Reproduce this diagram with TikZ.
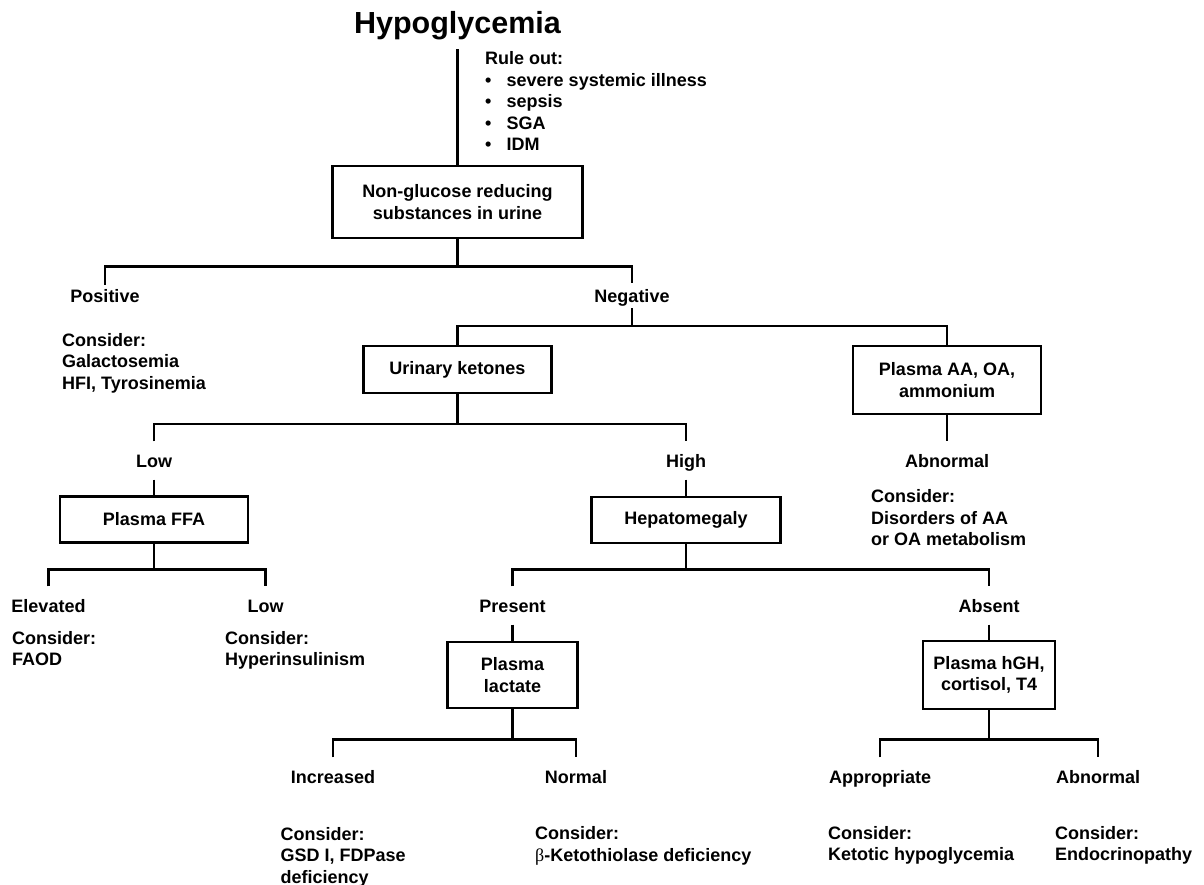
\documentclass[tikz,border=0pt]{standalone}
\usepackage{fontspec}
\setmainfont{Liberation Sans}
\newfontfamily\grkfont{Liberation Serif}
\begin{document}
\begin{tikzpicture}[x=1pt,y=-1pt,
  txt/.style={font=\fontsize{18}{21.5}\selectfont\bfseries},
  box/.style={txt,draw,line width=2.7pt,align=center,inner sep=0pt},
  lab/.style={txt,text height=13pt,text depth=0pt,inner xsep=2pt,inner ysep=12.5pt,anchor=base},
  note/.style={txt,align=left,anchor=base west,inner sep=0pt},
  conn/.style={line width=2.7pt}]
\useasboundingbox (0,0) rectangle (1204,885);

\node[font=\fontsize{30.5}{36}\selectfont\bfseries,anchor=base,inner sep=0pt] (title) at (457.5,33.3) {Hypoglycemia};
\node[box,minimum width=250pt,minimum height=72pt] (b1) at (457.5,202) {Non-glucose reducing\\substances in urine};
\node[note] (rule) at (485,151) {Rule out:\\\makebox[21.5pt][l]{\textbullet}severe systemic illness\\\makebox[21.5pt][l]{\textbullet}sepsis\\\makebox[21.5pt][l]{\textbullet}SGA\\\makebox[21.5pt][l]{\textbullet}IDM};

\node[lab,inner ysep=4pt] (pos) at (105,302) {Positive};
\node[lab,inner ysep=6pt] (neg) at (632,302) {Negative};
\node[note] (c1) at (62,389.3) {Consider:\\Galactosemia\\HFI, Tyrosinemia};
\node[box,minimum width=188pt,minimum height=47pt] (uk) at (457.5,369.5) {Urinary ketones};
\node[box,minimum width=188pt,minimum height=68pt] (aa) at (947,380) {Plasma AA, OA,\\ammonium};

\node[lab] (low1) at (154,467) {Low};
\node[lab] (high) at (686,467) {High};
\node[lab] (abn1) at (947,467) {Abnormal};
\node[note] (c2) at (871,545.5) {Consider:\\Disorders of AA\\or OA metabolism};
\node[box,minimum width=188pt,minimum height=46pt] (ffa) at (154,519.5) {Plasma FFA};
\node[box,minimum width=189pt,minimum height=46pt] (hep) at (686,520) {Hepatomegaly};

\node[lab] (elev) at (48.5,612) {Elevated};
\node[lab] (low2) at (265.5,612) {Low};
\node[note] (c3) at (12,665.5) {Consider:\\FAOD};
\node[note] (c4) at (225,665.5) {Consider:\\Hyperinsulinism};
\node[lab] (pres) at (512.5,612) {Present};
\node[lab] (abs) at (989,612) {Absent};
\node[box,minimum width=130pt,minimum height=66pt] (lac) at (512.5,675) {Plasma\\lactate};
\node[box,minimum width=132pt,minimum height=68pt] (hgh) at (989,675) {Plasma hGH,\\cortisol, T4};

\node[lab] (inc) at (333,783) {Increased};
\node[lab] (norm) at (576,783) {Normal};
\node[lab] (appr) at (880,783) {Appropriate};
\node[lab] (abn2) at (1098,783) {Abnormal};
\node[note] (c5) at (280.5,883) {Consider:\\GSD I, FDPase\\deficiency};
\node[note] (c6) at (535,861) {Consider:\\{\mdseries\grkfont β}-Ketothiolase deficiency};
\node[note] (c7) at (828,860.5) {Consider:\\Ketotic hypoglycemia};
\node[note] (c8) at (1055,860.5) {Consider:\\Endocrinopathy};

\coordinate (j1) at (457.5,266.7);
\coordinate (j2) at (632,326);
\coordinate (j3) at (457.5,424);
\coordinate (j4) at (154,569.3);
\coordinate (j5) at (686,569.3);
\coordinate (j6) at (512.5,739.3);
\coordinate (j7) at (989,739.3);

\draw[conn] ([yshift=-9.5pt]title.south) -- (b1.north);
\draw[conn] (b1.south) -- (j1);
\draw[conn] (pos.north) -- (pos.north |- j1) -- (neg.north |- j1) -- (neg.north);
\draw[conn] (neg.south) -- (j2);
\draw[conn] (uk.north) -- (uk.north |- j2) -- (aa.north |- j2) -- (aa.north);
\draw[conn] (uk.south) -- (j3);
\draw[conn] (low1.north) -- (low1.north |- j3) -- (high.north |- j3) -- (high.north);
\draw[conn] (aa.south) -- (abn1.north);
\draw[conn] (low1.south) -- (ffa.north);
\draw[conn] (high.south) -- (hep.north);
\draw[conn] (ffa.south) -- (j4);
\draw[conn] (elev.north) -- (elev.north |- j4) -- (low2.north |- j4) -- (low2.north);
\draw[conn] (hep.south) -- (j5);
\draw[conn] (pres.north) -- (pres.north |- j5) -- (abs.north |- j5) -- (abs.north);
\draw[conn] (pres.south) -- (lac.north);
\draw[conn] (abs.south) -- (hgh.north);
\draw[conn] (lac.south) -- (j6);
\draw[conn] (inc.north) -- (inc.north |- j6) -- (norm.north |- j6) -- (norm.north);
\draw[conn] (hgh.south) -- (j7);
\draw[conn] (appr.north) -- (appr.north |- j7) -- (abn2.north |- j7) -- (abn2.north);
\end{tikzpicture}
\end{document}
